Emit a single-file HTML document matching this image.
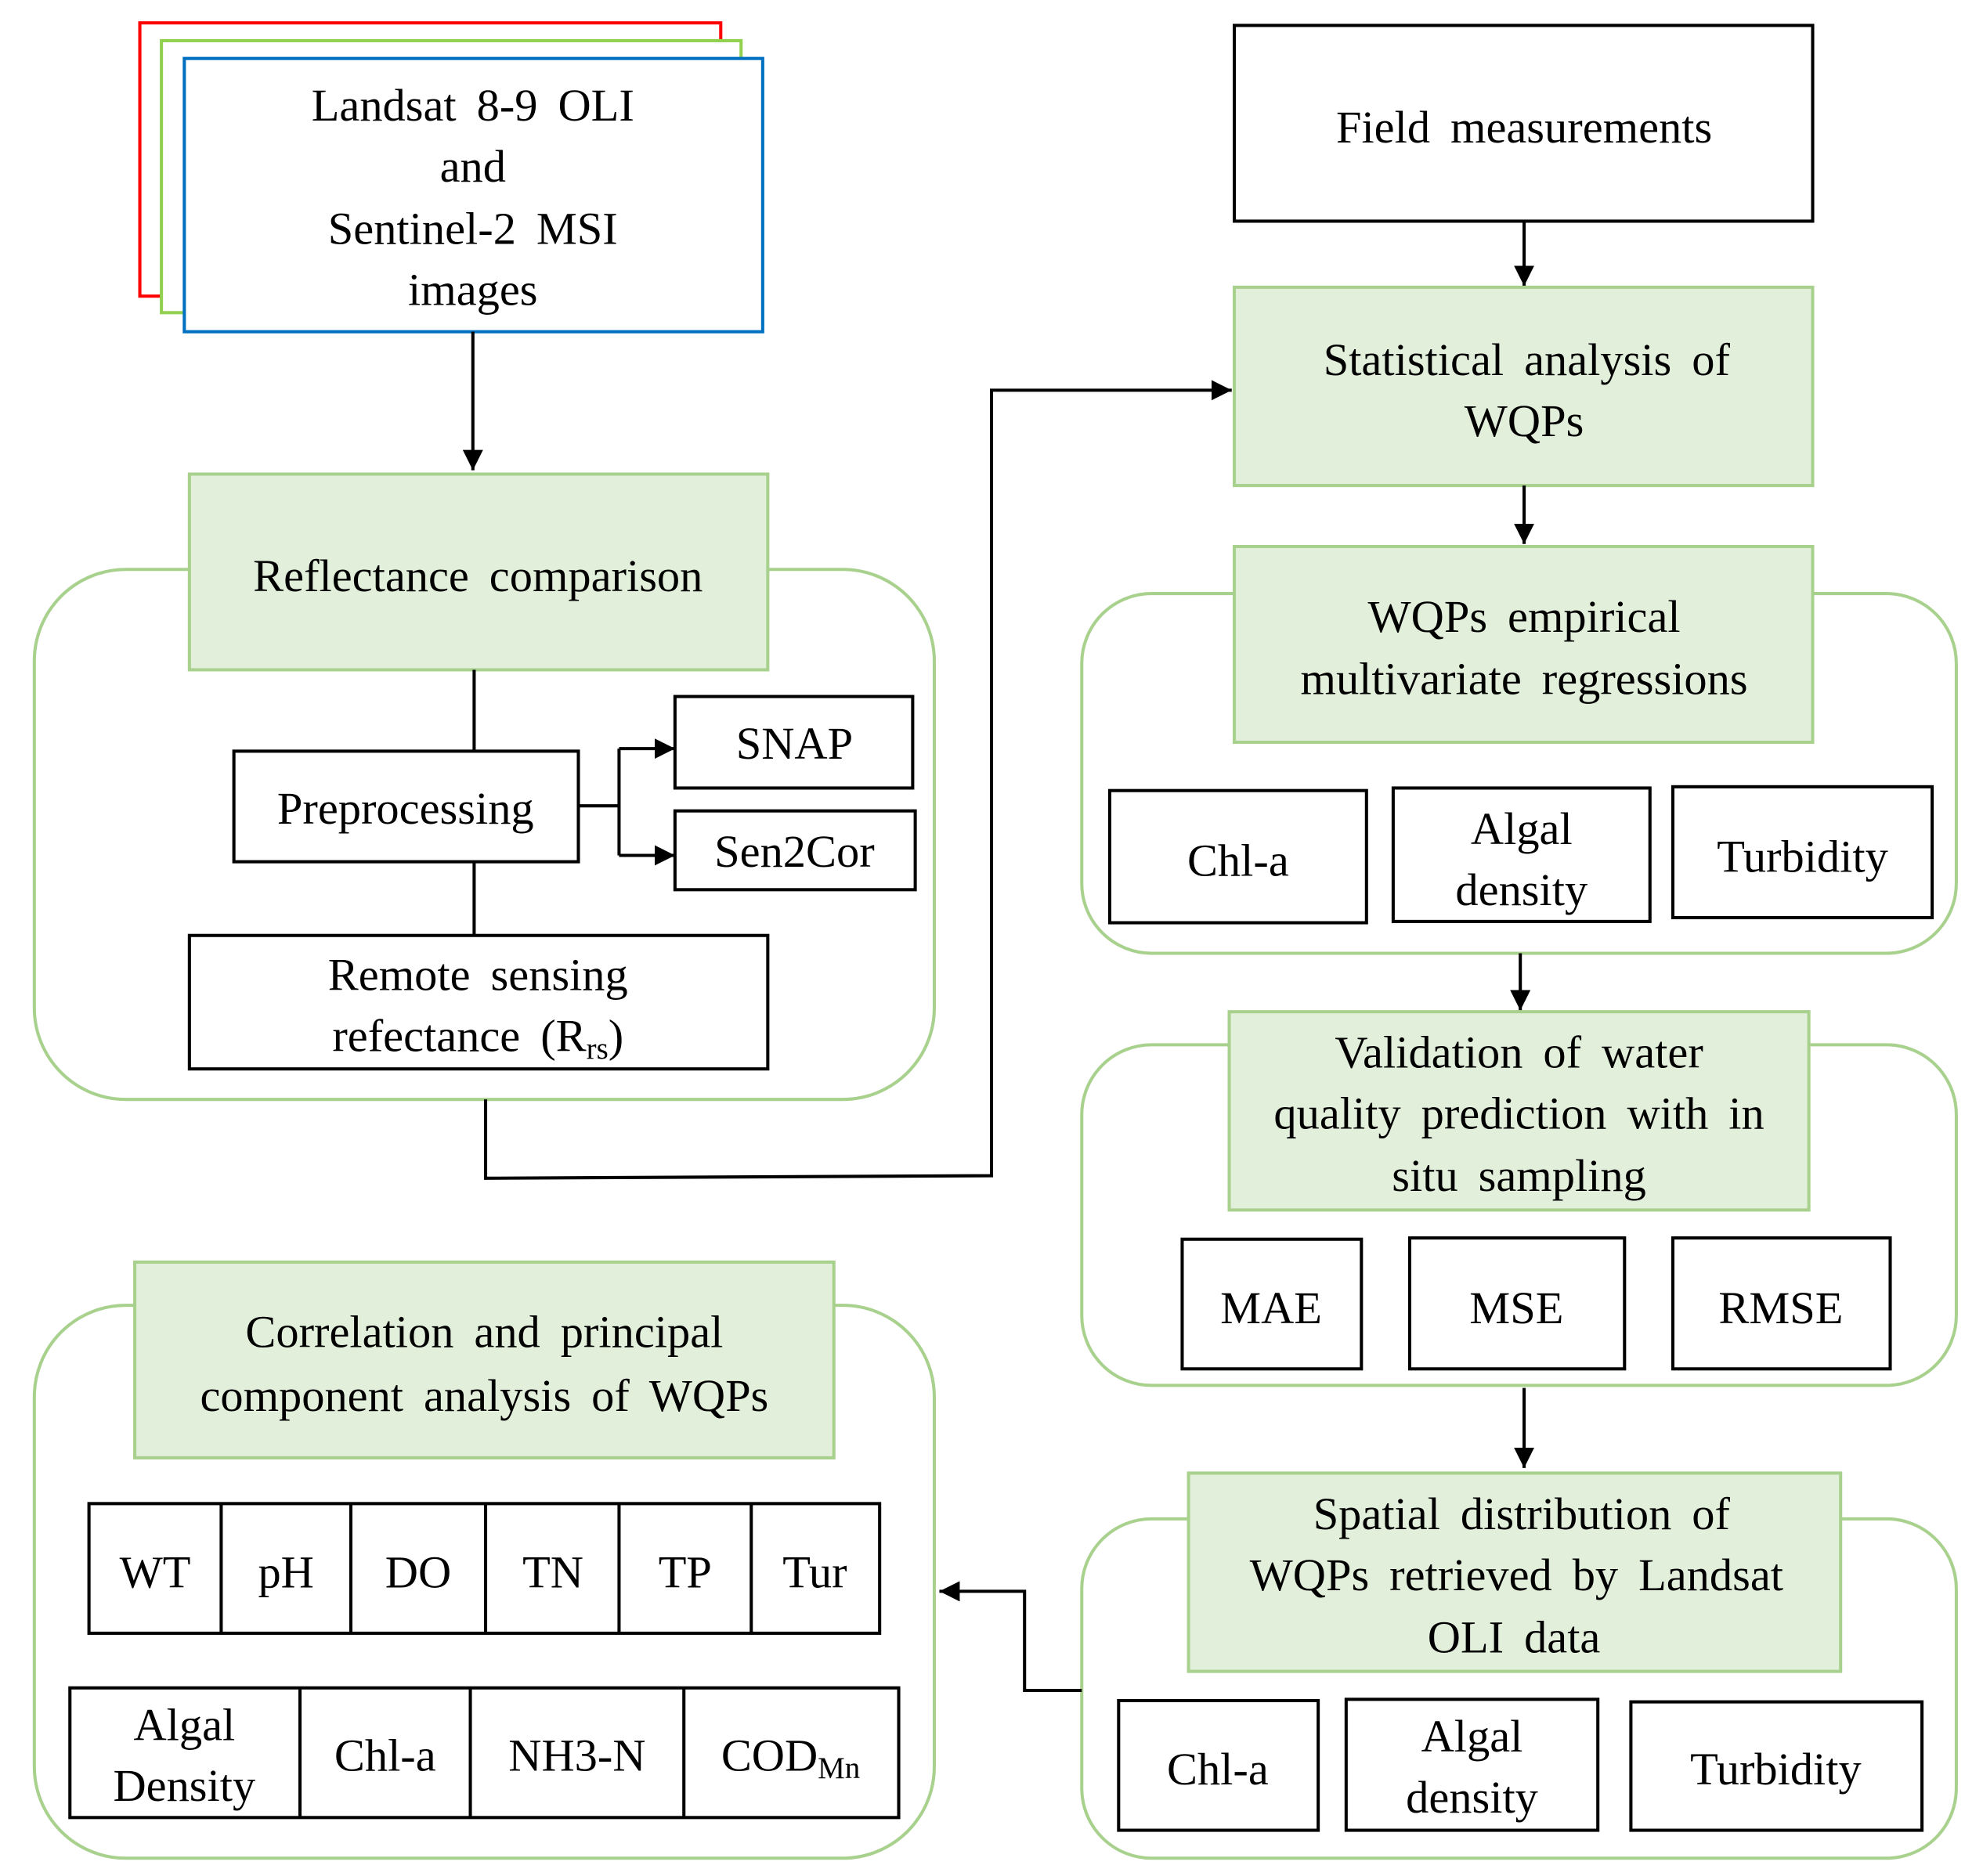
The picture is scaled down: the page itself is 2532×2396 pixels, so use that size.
<!DOCTYPE html>
<html><head><meta charset="utf-8"><style>
html,body{margin:0;padding:0;background:#fff;}
svg{display:block;}
text{font-family:"Liberation Serif",serif;font-size:36px;fill:#000;text-anchor:middle;word-spacing:7px;}
.b{fill:#fff;stroke:#000;stroke-width:2.5;}
.g{fill:#e2efda;stroke:#a9d18e;stroke-width:2.5;}
.o{fill:#fff;stroke:#a9d18e;stroke-width:2.5;}
.l{fill:none;stroke:#000;stroke-width:2.5;}
</style></head><body>
<svg width="2532" height="2396" viewBox="0 0 1560 1476" preserveAspectRatio="none" xmlns="http://www.w3.org/2000/svg">
<defs>
<marker id="m" viewBox="0 0 10 10" markerWidth="16" markerHeight="16" refX="10" refY="5" orient="auto" markerUnits="userSpaceOnUse"><path d="M0,0 L10,5 L0,10 z" fill="#000"/></marker></defs>

<rect x="110" y="18" width="457" height="215" fill="#fff" stroke="#ff0000" stroke-width="2.5"/>
<rect x="127" y="32" width="456" height="214" fill="#fff" stroke="#92d050" stroke-width="2.5"/>
<rect x="145" y="46" width="455" height="215" fill="#fff" stroke="#0070c0" stroke-width="2.5"/>
<text x="372" y="95">Landsat  8-9 OLI</text>
<text x="372" y="143">and</text>
<text x="372" y="192">Sentinel-2 MSI</text>
<text x="372" y="240">images</text>
<line class="l" x1="372" y1="261" x2="372" y2="370" marker-end="url(#m)"/>

<rect class="o" x="27" y="448" width="708" height="417" rx="72"/>
<rect class="g" x="149" y="373" width="455" height="154"/>
<text x="376" y="465">Reflectance  comparison</text>
<line class="l" x1="373" y1="527" x2="373" y2="591"/>
<rect class="b" x="184" y="591" width="271" height="87"/>
<text x="319" y="648">Preprocessing</text>
<polyline class="l" points="455,634 487,634"/>
<line class="l" x1="487" y1="589" x2="487" y2="673"/>
<line class="l" x1="487" y1="589" x2="531" y2="589" marker-end="url(#m)"/>
<line class="l" x1="487" y1="673" x2="531" y2="673" marker-end="url(#m)"/>
<rect class="b" x="531" y="548" width="187" height="72"/>
<text x="625" y="597">SNAP</text>
<rect class="b" x="531" y="638" width="189" height="62"/>
<text x="625" y="682">Sen2Cor</text>
<line class="l" x1="373" y1="678" x2="373" y2="736"/>
<rect class="b" x="149" y="736" width="455" height="105"/>
<text x="376" y="779">Remote sensing</text>
<text x="376" y="827">refectance  (R<tspan font-size="24" dy="6">rs</tspan><tspan dy="-6">)</tspan></text>
<polyline class="l" points="382,865 382,927 780,925 780,307 969,307" marker-end="url(#m)"/>

<rect class="b" x="971" y="20" width="455" height="154"/>
<text x="1199" y="112">Field measurements</text>
<line class="l" x1="1199" y1="174" x2="1199" y2="225" marker-end="url(#m)"/>
<rect class="g" x="971" y="226" width="455" height="156"/>
<text x="1201" y="295">Statistical  analysis  of</text>
<text x="1199" y="343">WQPs</text>
<line class="l" x1="1199" y1="382" x2="1199" y2="428" marker-end="url(#m)"/>

<rect class="o" x="851" y="467" width="688" height="283" rx="55"/>
<rect class="g" x="971" y="430" width="455" height="154"/>
<text x="1199" y="497">WQPs  empirical</text>
<text x="1199" y="546">multivariate  regressions</text>
<rect class="b" x="873" y="622" width="202" height="104"/>
<text x="974" y="689">Chl-a</text>
<rect class="b" x="1096" y="620" width="202" height="105"/>
<text x="1197" y="664">Algal</text>
<text x="1197" y="712">density</text>
<rect class="b" x="1316" y="619" width="204" height="103"/>
<text x="1418" y="686">Turbidity</text>
<line class="l" x1="1196" y1="750" x2="1196" y2="795" marker-end="url(#m)"/>

<rect class="o" x="851" y="822" width="688" height="268" rx="55"/>
<rect class="g" x="967" y="796" width="456" height="156"/>
<text x="1195" y="840">Validation  of  water</text>
<text x="1195" y="888">quality  prediction  with  in</text>
<text x="1195" y="937">situ  sampling</text>
<rect class="b" x="930" y="975" width="141" height="102"/>
<text x="1000" y="1041">MAE</text>
<rect class="b" x="1109" y="974" width="169" height="103"/>
<text x="1193" y="1041">MSE</text>
<rect class="b" x="1316" y="974" width="171" height="103"/>
<text x="1401" y="1041">RMSE</text>
<line class="l" x1="1199" y1="1092" x2="1199" y2="1155" marker-end="url(#m)"/>

<rect class="o" x="851" y="1195" width="688" height="267" rx="55"/>
<rect class="g" x="935" y="1159" width="513" height="156"/>
<text x="1197" y="1203">Spatial  distribution  of</text>
<text x="1193" y="1251">WQPs  retrieved  by  Landsat</text>
<text x="1191" y="1300">OLI  data</text>
<rect class="b" x="880" y="1338" width="157" height="102"/>
<text x="958" y="1404">Chl-a</text>
<rect class="b" x="1059" y="1337" width="198" height="103"/>
<text x="1158" y="1378">Algal</text>
<text x="1158" y="1426">density</text>
<rect class="b" x="1283" y="1339" width="229" height="101"/>
<text x="1397" y="1404">Turbidity</text>
<polyline class="l" points="851,1330 806,1330 806,1252 739,1252" marker-end="url(#m)"/>

<rect class="o" x="27" y="1027" width="708" height="435" rx="72"/>
<rect class="g" x="106" y="993" width="550" height="154"/>
<text x="381" y="1060">Correlation  and  principal</text>
<text x="381" y="1110">component  analysis  of  WQPs</text>
<rect class="b" x="70" y="1183" width="622" height="102"/>
<line class="l" x1="174" y1="1183" x2="174" y2="1285"/>
<line class="l" x1="276" y1="1183" x2="276" y2="1285"/>
<line class="l" x1="382" y1="1183" x2="382" y2="1285"/>
<line class="l" x1="487" y1="1183" x2="487" y2="1285"/>
<line class="l" x1="591" y1="1183" x2="591" y2="1285"/>
<text x="122" y="1249">WT</text>
<text x="225" y="1249">pH</text>
<text x="329" y="1249">DO</text>
<text x="435" y="1249">TN</text>
<text x="539" y="1249">TP</text>
<text x="641" y="1249">Tur</text>
<rect class="b" x="55" y="1328" width="652" height="102"/>
<line class="l" x1="236" y1="1328" x2="236" y2="1430"/>
<line class="l" x1="370" y1="1328" x2="370" y2="1430"/>
<line class="l" x1="538" y1="1328" x2="538" y2="1430"/>
<text x="145" y="1369">Algal</text>
<text x="145" y="1417">Density</text>
<text x="303" y="1393">Chl-a</text>
<text x="454" y="1393">NH3-N</text>
<text x="622" y="1393">COD<tspan font-size="24" dy="6">Mn</tspan></text>
</svg>
</body></html>
